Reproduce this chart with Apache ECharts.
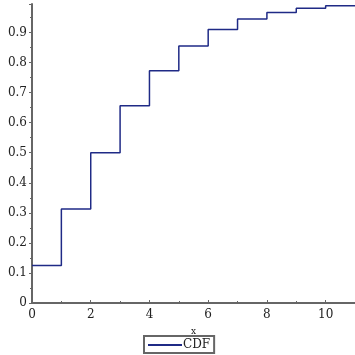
<!DOCTYPE html>
<html><head><meta charset="utf-8">
<script src="https://cdn.jsdelivr.net/npm/echarts@6/dist/echarts.min.js"></script>
<style>html,body{margin:0;padding:0;background:#fff}#c{width:355px;height:355px}</style>
</head><body><div id="c"></div>
<script>
const xValues = [0, 1, 2, 3, 4, 5, 6, 7, 8, 9, 10, 11];
const cdfValues = [0.125, 0.3125, 0.5, 0.656, 0.773, 0.855, 0.910, 0.945, 0.967, 0.981, 0.989, 0.989];
const seriesName = 'CDF';
const xTitle = 'x';

const chart = echarts.init(document.getElementById('c'), null, {renderer: 'canvas'});
const font = 'DejaVu Serif';
const axisCol = '#666';
chart.setOption({
  animation: false,
  grid: {left: 32, right: 0, top: 4, bottom: 52, containLabel: false},
  legend: {
    data: [{name: seriesName, icon: 'rect'}],
    bottom: 2, left: 144,
    itemWidth: 34, itemHeight: 2, itemGap: 0,
    padding: [3, 4, 2, 4],
    borderColor: '#666', borderWidth: 2, borderRadius: 0,
    textStyle: {fontFamily: font, fontSize: 12, color: '#222', padding: [0, 0, 0, -4]}
  },
  xAxis: {
    type: 'value', min: 0, max: 11, interval: 2,
    name: xTitle, nameLocation: 'middle', nameGap: 24,
    nameTextStyle: {fontFamily: font, fontSize: 9, color: '#222'},
    axisLine: {lineStyle: {color: axisCol, width: 2}},
    axisTick: {show: true, inside: true, length: 3, lineStyle: {color: axisCol}},
    minorTick: {show: true, splitNumber: 2, length: 2, lineStyle: {color: axisCol}},
    splitLine: {show: false},
    axisLabel: {fontFamily: font, fontSize: 12, color: '#222', margin: 6,
      showMaxLabel: false}
  },
  yAxis: {
    type: 'value', min: 0, max: 0.995, interval: 0.1,
    axisLine: {show: true, lineStyle: {color: axisCol, width: 2}},
    axisTick: {show: true, length: 3, lineStyle: {color: axisCol}},
    minorTick: {show: true, splitNumber: 2, length: 2, lineStyle: {color: axisCol}},
    splitLine: {show: false},
    axisLabel: {fontFamily: font, fontSize: 12, color: '#222', margin: 5,
      showMaxLabel: false, padding: [3, 0, 0, 0],
      formatter: v => (Math.round(v * 10) / 10).toString()}
  },
  series: [{
    name: seriesName, type: 'line', step: 'end', symbol: 'none',
    data: xValues.map((x, i) => [x, cdfValues[i]]),
    lineStyle: {color: '#1f2a86', width: 1.5},
    itemStyle: {color: '#1f2a86'}
  }]
});
</script></body></html>
